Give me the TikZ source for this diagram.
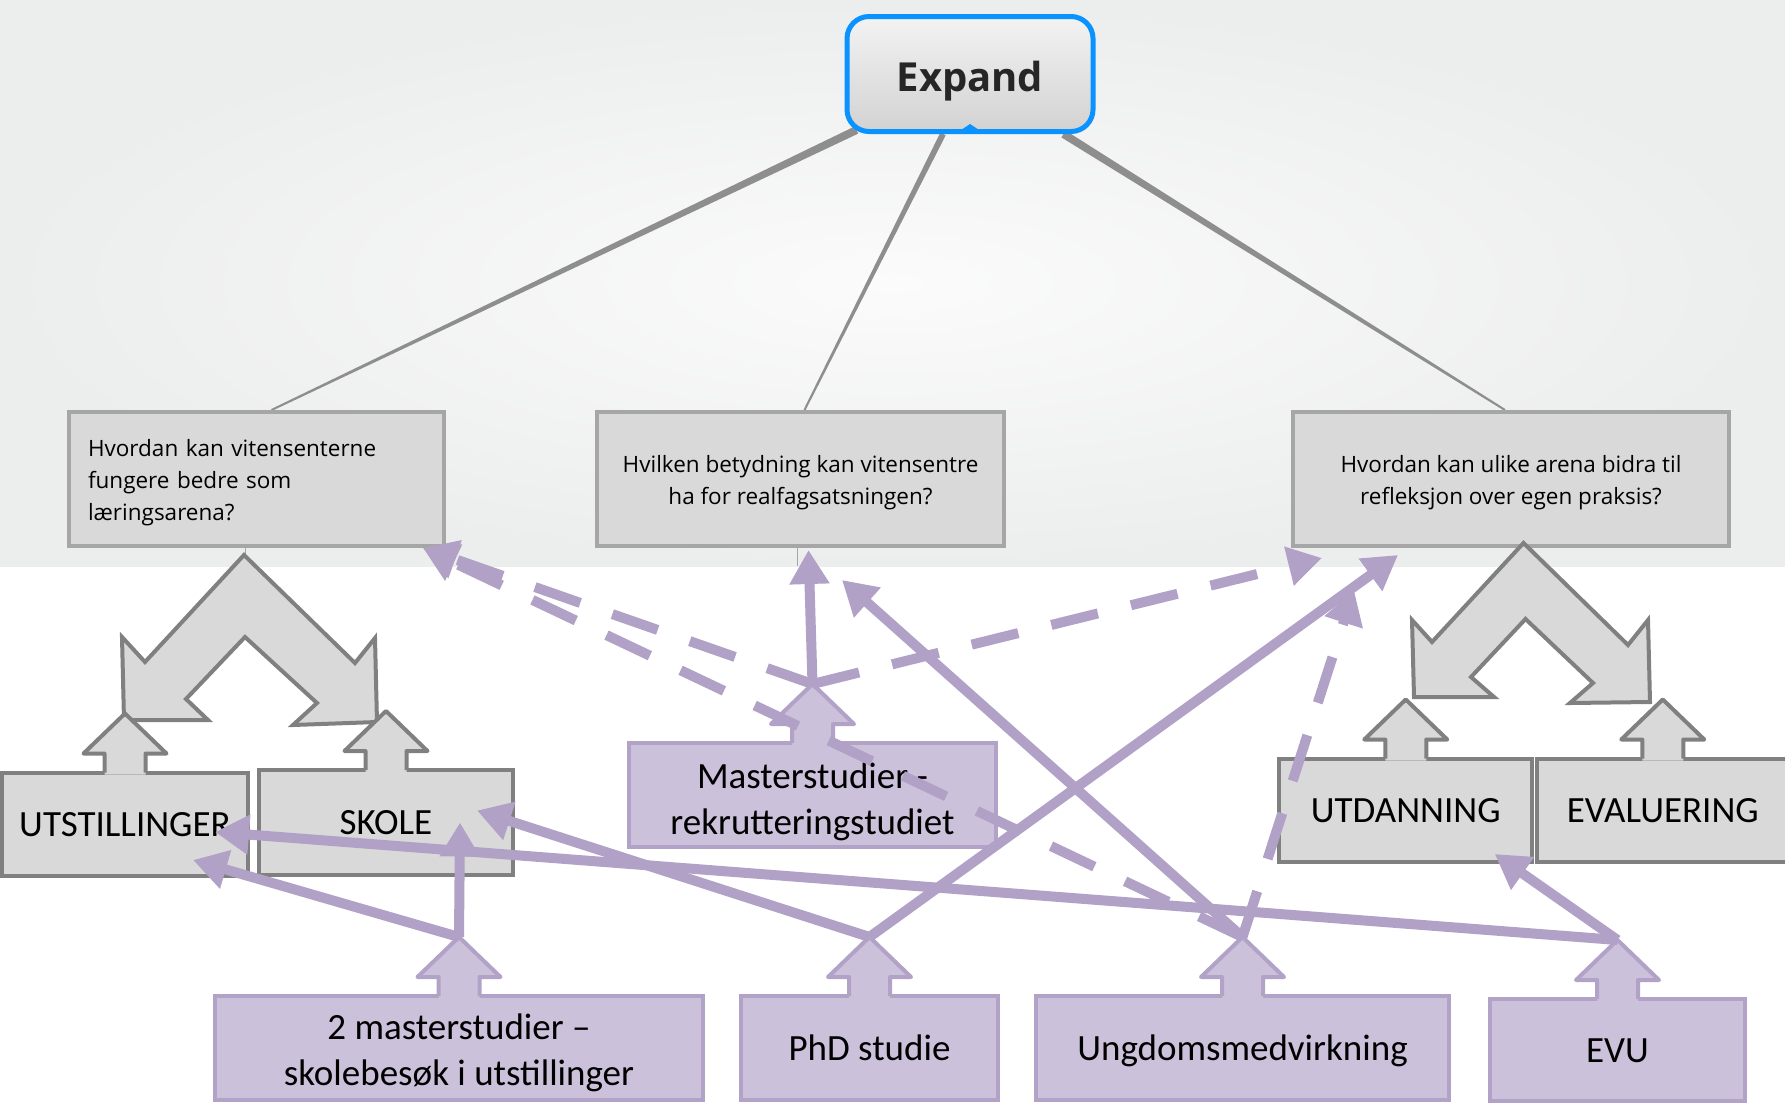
\documentclass[tikz,border=0pt]{standalone}
\usepackage{fontspec}
\usepackage{tikz}
\usetikzlibrary{arrows.meta,calc}
\newfontfamily\opfont{Open Sans}
\newfontfamily\calfont{Carlito}
\definecolor{bgray}{HTML}{ECEDED}
\definecolor{bgin}{HTML}{FBFBFB}
\definecolor{expblue}{HTML}{0A93FF}
\definecolor{exptop}{HTML}{F3F3F3}
\definecolor{expbot}{HTML}{D2D2D2}
\definecolor{stemgray}{HTML}{8E8E8E}
\definecolor{qline}{HTML}{A6A6A6}
\definecolor{boxgray}{HTML}{D9D9D9}
\definecolor{boxline}{HTML}{808080}
\definecolor{purpfill}{HTML}{CCC1DA}
\definecolor{purpline}{HTML}{B3A2C7}
\definecolor{purplink}{HTML}{B2A1C7}
\pgfdeclarelayer{back}
\pgfsetlayers{back,main}
\tikzset{
  expbox/.style={draw=expblue, line width=5pt, rounded corners=22pt, top color=exptop, bottom color=expbot,
    minimum width=246pt, minimum height=115pt, text=black!85, font=\opfont\bfseries\fontsize{40}{48}\selectfont},
  qbox/.style={draw=qline, fill=boxgray, line width=4pt, minimum height=134pt, inner sep=0pt,
    font=\opfont\fontsize{22.5}{32}\selectfont},
  graybox/.style={draw=boxline, fill=boxgray, line width=4pt, minimum height=103pt, inner sep=0pt,
    text height=30pt, text depth=6pt, font=\calfont\fontsize{37}{46}\selectfont},
  purpbox/.style={draw=purpline, fill=purpfill, line width=4pt, minimum height=104pt, inner sep=0pt, align=center,
    font=\calfont\fontsize{37}{46}\selectfont},
  oneline/.style={text height=30pt, text depth=6pt},
  chevron/.style={draw=boxline, fill=boxgray, line width=4pt, line join=miter},
  plink/.style={draw=purplink, line width=10pt, -{Triangle[length=34pt,width=38pt]}},
  dlink/.style={plink, dash pattern=on 48pt off 34pt},
}
% up arrow sitting on the top edge of a box: node, fill, line
\newcommand{\callup}[3]{%
  \fill[#2] ($(#1.north)+(-20.5,4)$) -- ++(0,-21) -- ++(-21,0) -- ++(41.5,-40) -- ++(41.5,40) -- ++(-21,0) -- ++(0,21) -- cycle;
  \draw[#3, line width=4pt, line join=round] ($(#1.north)+(-20.5,2)$) -- ++(0,-19) -- ++(-21,0) -- ++(41.5,-40) -- ++(41.5,40) -- ++(-21,0) -- ++(0,19);
  \coordinate (#1-tip) at ($(#1.north)+(0,-57)$);}

\begin{document}
\begin{tikzpicture}[x=1pt,y=-1pt]
\useasboundingbox (0,0) rectangle (1785,1103);
% mind map part
\node[expbox, text depth=2pt, text height=36pt] (exp) at (970,74) {Expand};
\fill[expblue] ($(exp.south)+(-12,-2)$) -- ($(exp.south)+(0,-10)$) -- ($(exp.south)+(12,-2)$) -- cycle;
\node[qbox, minimum width=375pt, text width=337pt, align=left] (q1) at (256.5,479) {\rule{0pt}{24pt}Hvordan kan vitensenterne\\fungere bedre som\\læringsarena?};
\node[qbox, minimum width=407pt, align=center] (q2) at (800.5,479) {\rule{0pt}{24pt}Hvilken betydning kan vitensentre\\ha for realfagsatsningen?};
\node[qbox, minimum width=436pt, align=center] (q3) at (1511,479) {\rule{0pt}{24pt}Hvordan kan ulike arena bidra til\\refleksjon over egen praksis?};
\begin{pgfonlayer}{back}
\fill[white] (0,0) rectangle (1785,1103);
\shade[inner color=bgin, outer color=bgray] (0,0) rectangle (1785,566);
\coordinate (e1) at ($(exp.south west)+(12,-4)$);
\coordinate (e2) at ($(exp.south)+(-27,0)$);
\coordinate (e3) at ($(exp.south east)+(-32,0)$);
\coordinate (t1) at ($(q1.north)+(15,0)$);
\coordinate (t2) at ($(q2.north)+(4,0)$);
\coordinate (t3) at ($(q3.north)+(-6,0)$);
\foreach \i/\w in {1/4,2/3,3/4}
  \fill[stemgray] ($(e\i)!\w pt!90:(t\i)$) -- ($(t\i)!1pt!-90:(e\i)$) -- ($(t\i)!1pt!90:(e\i)$) -- ($(e\i)!\w pt!-90:(t\i)$) -- cycle;
\draw[qline, line width=1pt] ($(q1.south)+(-11,0)$) -- ++(0,8);
\draw[qline, line width=1pt] ($(q2.south)+(-3,0)$) -- ++(0,18);
\end{pgfonlayer}
% bent arrows
\draw[chevron] (244,555) -- (355,663) -- (375,638) -- (377,722) -- (293,725) -- (317,703) -- (245,637) -- (186,699) -- (208,720) -- (124,720) -- (122,637) -- (145,662) -- cycle;
\draw[chevron] (1523.5,543) -- (1628,645) -- (1648,620) -- (1650,702) -- (1570,703) -- (1593,683) -- (1525.5,619) -- (1471,677) -- (1494,697) -- (1414,697) -- (1412,620) -- (1432,642) -- cycle;
% areas
\node[graybox, minimum width=246pt] (utst) at (125,824) {UTSTILLINGER};
\node[graybox, minimum width=254pt, minimum height=105pt] (skole) at (386,822.5) {SKOLE};
\node[graybox, minimum width=253pt] (utd) at (1405.75,810) {UTDANNING};
\node[graybox, minimum width=252pt] (eval) at (1662.75,810) {EVALUERING};
% studies
\node[purpbox, minimum width=367pt] (mast) at (812.5,795) {\rule{0pt}{40pt}Masterstudier -\\rekrutteringstudiet};
\node[purpbox, minimum width=488pt] (m2) at (459,1048) {\rule{0pt}{36pt}2 masterstudier –\\skolebesøk i utstillinger};
\node[purpbox, oneline, minimum width=257pt] (phd) at (869.5,1048) {PhD studie};
\node[purpbox, oneline, minimum width=413pt] (ung) at (1242.5,1048) {Ungdomsmedvirkning};
\node[purpbox, oneline, minimum width=255pt, minimum height=102pt] (evu) at (1617.5,1050) {EVU};
\callup{utst}{boxgray}{boxline}
\callup{skole}{boxgray}{boxline}
\callup{utd}{boxgray}{boxline}
\callup{eval}{boxgray}{boxline}
\callup{mast}{purpfill}{purpline}
\callup{m2}{purpfill}{purpline}
\callup{phd}{purpfill}{purpline}
\callup{ung}{purpfill}{purpline}
\callup{evu}{purpfill}{purpline}
% links
\draw[plink] (m2-tip) -- ($(utst.center)+(68,36)$);
\draw[plink] (m2-tip) -- ($(skole.center)+(74,0)$);
\draw[plink] (phd-tip) -- ($(skole.center)+(91,-12)$);
\draw[plink] (phd-tip) -- ($(q3.south west)+(107,7)$);
\draw[plink] (mast-tip) -- ($(q2.south)+(8,2)$);
\draw[dlink] (mast-tip) -- ($(q1.south east)+(-23,0)$);
\draw[dlink] (mast-tip) -- ($(q3.south west)+(31,10)$);
\draw[plink] (ung-tip) -- ($(q2.south)+(41.5,32)$);
\draw[dlink] (ung-tip) -- ($(q3.south west)+(63,42)$);
\draw[dlink] (ung-tip) -- ($(q1.south east)+(-23,0)$);
\draw[plink] (evu-tip) -- ($(utst.center)+(90,8)$);
\draw[plink] (evu-tip) -- ($(utd.center)+(89,44)$);
\end{tikzpicture}
\end{document}
